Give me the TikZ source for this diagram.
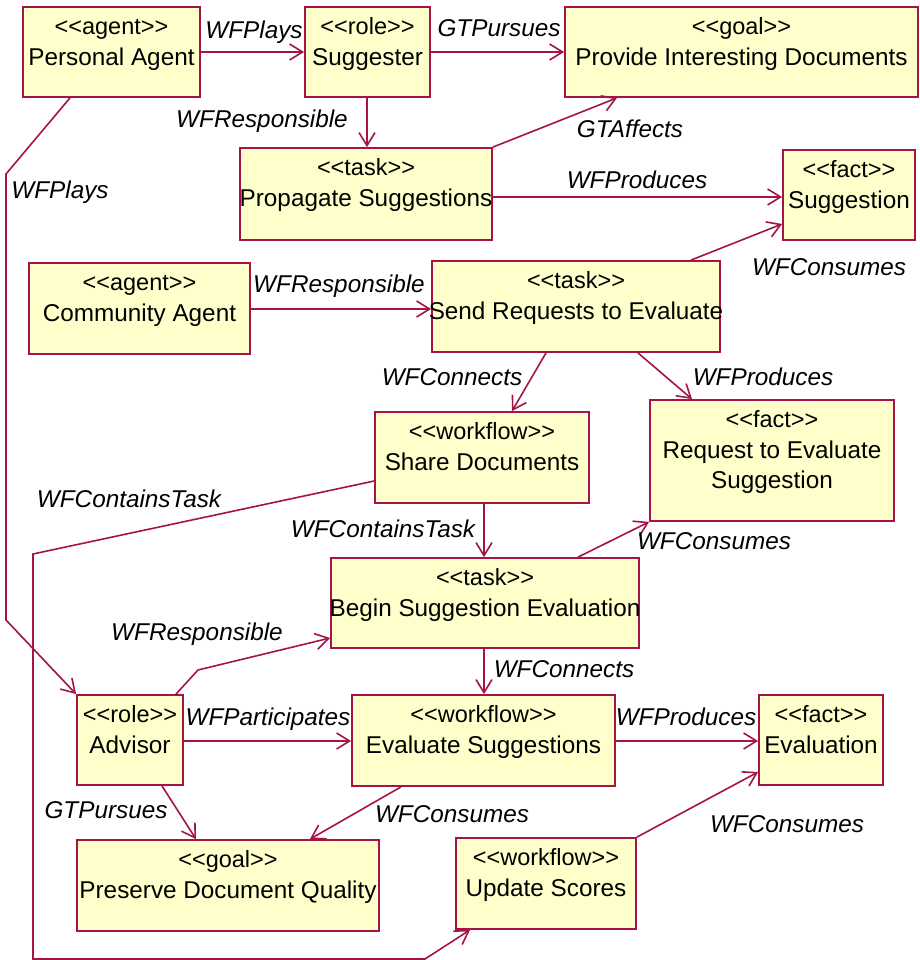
\documentclass[tikz,border=0pt]{standalone}
\usepackage{fontspec}
\setmainfont{Liberation Sans}
\usetikzlibrary{arrows.meta,calc}
\definecolor{umlred}{RGB}{165,20,70}
\definecolor{umlfill}{RGB}{255,255,204}
% box: name, centre x, centre y, width, height, stereotype, title
\newcommand\umlbox[7]{%
  \node[box, minimum width=#4pt, minimum height=#5pt] (#1) at (#2,#3) {};
  \node[stereo] (#1-st) at ($(#1.north)+(0,28)$) {<{}<#6>{}>};
  \node[title] (#1-ti) at ($(#1.north)+(0,59)$) {#7};}
\begin{document}
\begin{tikzpicture}[x=1pt,y=-1pt,
  box/.style={draw=umlred, fill=umlfill, line width=1.8pt, rectangle, inner sep=0pt},
  stereo/.style={anchor=base, inner sep=0pt, font=\fontsize{23.5}{28}\selectfont},
  title/.style={anchor=base, inner sep=0pt, font=\fontsize{24.3}{30}\selectfont},
  lbl/.style={anchor=base, inner sep=0pt, font=\fontsize{24.3}{30}\selectfont\itshape},
  conn/.style={draw=umlred, line width=1.6pt, -{Straight Barb[length=13pt,width=16pt]}}]
\fill[white] (0,0) rectangle (919,960);
\useasboundingbox (0,0) rectangle (919,960);

% elements
\umlbox{pa}{111.5}{52}{177}{90}{agent}{Personal Agent}
\umlbox{sug}{367.5}{52}{125}{90}{role}{Suggester}
\umlbox{pid}{741.5}{52}{353}{90}{goal}{Provide Interesting Documents}
\umlbox{prop}{366}{194}{252}{92}{task}{Propagate Suggestions}
\umlbox{sugf}{849}{195}{132}{90}{fact}{Suggestion}
\umlbox{comm}{139.5}{308.5}{221}{91}{agent}{Community Agent}
\umlbox{send}{576}{306.5}{288}{91}{task}{Send Requests to Evaluate}
\umlbox{share}{482}{457.5}{214}{91}{workflow}{Share Documents}
\umlbox{req}{772}{460.5}{244}{121}{fact}{Request to Evaluate}
\node[title] (req-ti2) at ($(req.north)+(0,89)$) {Suggestion};
\umlbox{begin}{485}{603}{308}{90}{task}{Begin Suggestion Evaluation}
\umlbox{adv}{130}{740}{106}{90}{role}{Advisor}
\umlbox{es}{483.5}{740.5}{263}{91}{workflow}{Evaluate Suggestions}
\umlbox{eval}{821}{740}{124}{90}{fact}{Evaluation}
\umlbox{pdq}{228}{885.5}{302}{91}{goal}{Preserve Document Quality}
\umlbox{upd}{546}{883.5}{180}{91}{workflow}{Update Scores}

% relations
\draw[conn] (pa.east) -- (sug.west);
\draw[conn] (sug.east) -- (pid.west);
\draw[conn] (sug.south -| 367,0) -- (prop.north -| 367,0);
\draw[conn] (prop.north east) -- (pid.south -| 617,0);
\draw[conn] (prop.east |- 0,197) -- (sugf.west |- 0,197);
\draw[conn] (send.north -| 691,0) -- (sugf.west |- 0,224);
\draw[conn] (comm.east |- 0,309) -- (send.west |- 0,309);
\draw[conn] (send.south -| 546,0) -- (share.north -| 512,0);
\draw[conn] (send.south -| 638,0) -- (req.north -| 692,0);
\draw[conn] (share.south -| 484,0) -- (begin.north -| 484,0);
\draw[conn] (share.west |- 0,481) -- (33,554) -- (33,959) -- (425,959) -- (upd.south -| 470,0);
\draw[conn] (pa.south -| 70,0) -- (6,174) -- (6,620) -- (adv.north west);
\draw[conn] (begin.north -| 578,0) -- (req.south west);
\draw[conn] (begin.south -| 484,0) -- (es.north -| 484,0);
\draw[conn] (adv.north -| 176,0) -- (198,670) -- (begin.west |- 0,638);
\draw[conn] (adv.east |- 0,741) -- (es.west |- 0,741);
\draw[conn] (es.east |- 0,741) -- (eval.west |- 0,741);
\draw[conn] (adv.south -| 162,0) -- (pdq.north -| 196,0);
\draw[conn] (es.south -| 401,0) -- (pdq.north -| 310,0);
\draw[conn] (upd.north east) -- (eval.west |- 0,772);

% relation names
\node[lbl] (l1) at (254,39) {WFPlays};
\node[lbl] (l2) at (499,37) {GTPursues};
\node[lbl] (l3) at (262,128) {WFResponsible};
\node[lbl] (l4) at (60,198) {WFPlays};
\node[lbl] (l5) at (630,138) {GTAffects};
\node[lbl] (l6) at (637,188) {WFProduces};
\node[lbl] (l7) at (829,275) {WFConsumes};
\node[lbl] (l8) at (339,292) {WFResponsible};
\node[lbl] (l9) at (452,385) {WFConnects};
\node[lbl] (l10) at (763,385) {WFProduces};
\node[lbl] (l11) at (129,507) {WFContainsTask};
\node[lbl] (l12) at (383,537) {WFContainsTask};
\node[lbl] (l13) at (714,549) {WFConsumes};
\node[lbl] (l14) at (197,640) {WFResponsible};
\node[lbl] (l15) at (564,677) {WFConnects};
\node[lbl] (l16) at (268,725) {WFParticipates};
\node[lbl] (l17) at (686,725) {WFProduces};
\node[lbl] (l18) at (106,818) {GTPursues};
\node[lbl] (l19) at (452,822) {WFConsumes};
\node[lbl] (l20) at (787,832) {WFConsumes};
\end{tikzpicture}
\end{document}
